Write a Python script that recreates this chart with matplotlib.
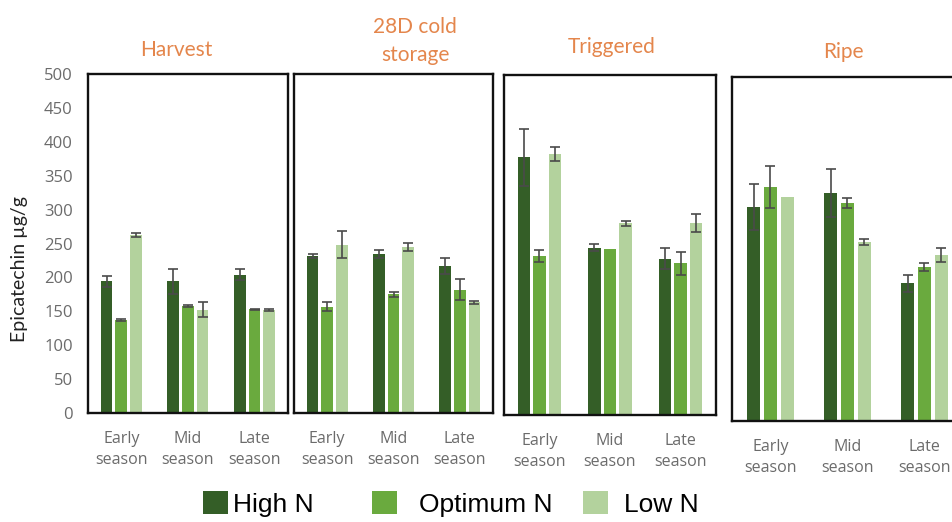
import numpy as np
import matplotlib
matplotlib.use('Agg')
import matplotlib.pyplot as plt
from matplotlib.patches import Patch

# ----------------
# DATA
# ----------------

stages = ['Harvest', '28D cold\nstorage', 'Triggered', 'Ripe']
seasons = ['Early\nseason', 'Mid\nseason', 'Late\nseason']
series = ['High N', 'Optimum N', 'Low N']

high_n = [[194, 194, 204], [232, 235, 217], [379, 246, 230], [311, 331, 200]]
high_err = [[8, 18, 8], [3, 6, 12], [42, 5, 15], [33, 35, 12]]
opt_n = [[137, 158, 153], [157, 175, 182], [234, 244, 223], [340, 317, 224]]
opt_err = [[2, 1, 1], [6, 4, 16], [9, 0, 17], [31, 7, 6]]
low_n = [[263, 152, 152], [248, 245, 163], [384, 282, 282], [326, 260, 241]]
low_err = [[3, 11, 1], [20, 6, 2], [10, 4, 13], [0, 4, 10]]

colors = ['#345e27', '#6aaa3e', '#b3d29d']
title_color = '#e4864c'
tick_color = '#6b6b6b'

# ----------------
# LAYOUT (pixels in the 953x522 canvas)
# ----------------

W, H = 953, 522
boxes_px = [(88, 74, 200, 339), (294, 74, 199, 339), (504, 75, 212, 340), (732, 77, 231, 344)]
title_px = [(176, 50), (415, 41), (612, 47), (843, 52)]
legend_px = [(203, 0.2), (372, 0.85), (583, 0.6)]   # square left edge, text gap

fig = plt.figure(figsize=(W / 100, H / 100), dpi=100)

values = [high_n, opt_n, low_n]
errs = [high_err, opt_err, low_err]
x = np.arange(len(seasons))
bw = 0.175
step = 0.22

for i, stage in enumerate(stages):
    l, t, w, h = boxes_px[i]
    ax = fig.add_axes([l / W, 1 - (t + h) / H, w / W, h / H])
    for k in range(3):
        vals = np.array(values[k][i], dtype=float)
        er = np.array(errs[k][i], dtype=float)
        xs = x + (k - 1) * step
        ax.bar(xs, vals, width=bw, color=colors[k], zorder=2)
        m = er > 0
        ax.errorbar(xs[m], vals[m], yerr=er[m], fmt='none', ecolor='#4a4a4a',
                    elinewidth=1.2, capsize=3.5, capthick=1.2, zorder=3)
    ax.set_xlim(-0.5, 2.5)
    ax.set_ylim(0, 500)
    for s in ax.spines.values():
        s.set_linewidth(1.7)
        s.set_color('#111111')
    ax.set_xticks(x)
    ax.set_xticklabels(seasons, family='Open Sans', fontsize=11.5, color=tick_color,
                       linespacing=1.45)
    ax.tick_params(axis='x', length=0, pad=13)
    if i == 0:
        ax.set_yticks(np.arange(0, 501, 50))
        ax.tick_params(axis='y', length=0, pad=11, labelsize=12, labelcolor=tick_color)
        for lab in ax.get_yticklabels():
            lab.set_family('Open Sans')
        ax.set_ylabel('Epicatechin µg/g', family='Lato', fontsize=14, color='#222222')
        ax.yaxis.set_label_coords(-0.30, 0.425)
    else:
        ax.set_yticks([])
    tx, ty = title_px[i]
    fig.text(tx / W, 1 - ty / H, stage, ha='center', va='center', family='Lato',
             fontsize=15, color=title_color, linespacing=1.45)

for k in range(3):
    lx, gap = legend_px[k]
    fig.legend([Patch(facecolor=colors[k], edgecolor='none')], [series[k]],
               loc='center left', bbox_to_anchor=(lx / W, 1 - 504 / H),
               frameon=False, prop={'family': 'Liberation Sans', 'size': 19},
               handlelength=0.95, handleheight=0.95, handletextpad=gap,
               borderpad=0, borderaxespad=0)

fig.savefig('out.png', dpi=100)
